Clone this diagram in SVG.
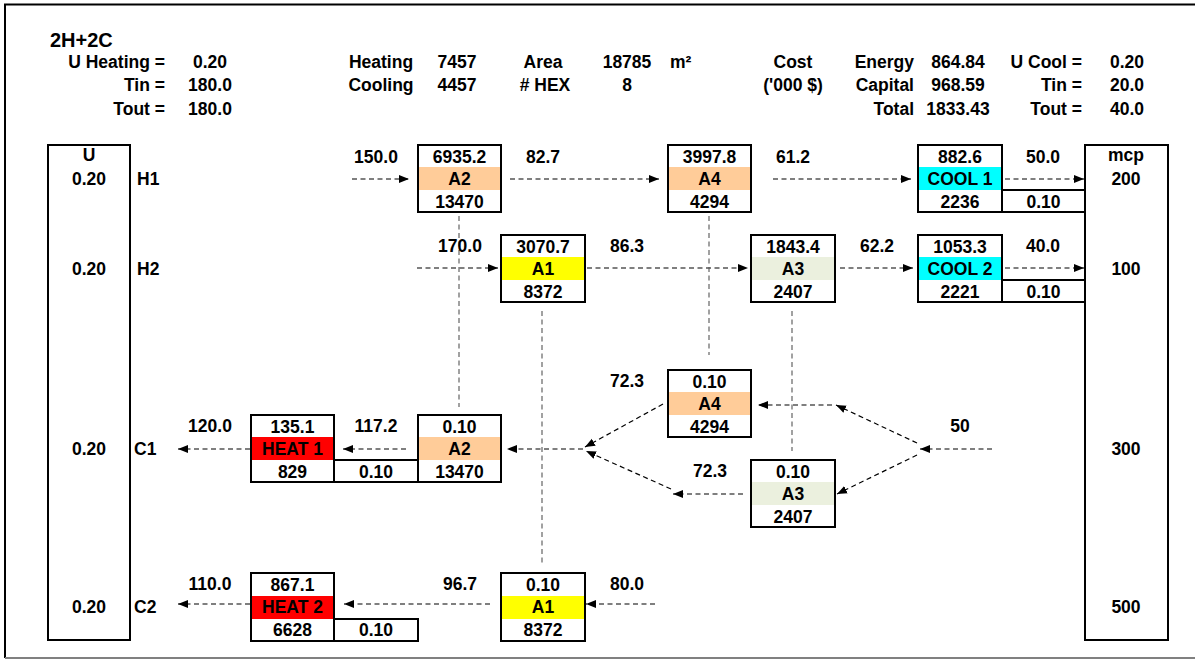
<svg xmlns="http://www.w3.org/2000/svg" width="1195" height="659" viewBox="0 0 1195 659">
<style>
text{font-family:"Liberation Sans",Arial,sans-serif;font-weight:bold;font-size:17.5px;fill:#000}
.m{text-anchor:middle}
.e{text-anchor:end}
.b{fill:#fff;stroke:none}
.o{fill:none;stroke:#000;stroke-width:2}
.c{fill:none;stroke:#000;stroke-width:1.2;stroke-dasharray:5,3.5}
.v{fill:none;stroke:#555;stroke-width:1.1;stroke-dasharray:5,3.5}
.peach{fill:#FFCC99}.yel{fill:#FFFF00}.grn{fill:#EBF0DE}.cyan{fill:#00FFFF}.red{fill:#FF0000}
</style>
<defs>
<marker id="ah" markerUnits="userSpaceOnUse" markerWidth="11" markerHeight="9" refX="10" refY="4.5" orient="auto">
<path d="M0,0.5 L10,4.5 L0,8.5 z" fill="#000"/>
</marker>
</defs>
<rect x="0" y="0" width="1195" height="659" fill="#fff"/>
<g id="frame">
<line x1="4" y1="4.5" x2="1195" y2="4.5" stroke="#000" stroke-width="2"/>
<line x1="5" y1="4" x2="5" y2="658" stroke="#000" stroke-width="2"/>
<line x1="5" y1="658" x2="1195" y2="658" stroke="#808080" stroke-width="2"/>
</g>
<g id="header">
<text x="50" y="47" style="font-size:20px">2H+2C</text>
<text x="165" y="68" class="e">U Heating =</text>
<text x="165" y="91" class="e">Tin =</text>
<text x="165" y="115" class="e">Tout =</text>
<text x="210" y="68" class="m">0.20</text>
<text x="210" y="91" class="m">180.0</text>
<text x="210" y="115" class="m">180.0</text>
<text x="381" y="68" class="m">Heating</text>
<text x="381" y="91" class="m">Cooling</text>
<text x="457" y="68" class="m">7457</text>
<text x="457" y="91" class="m">4457</text>
<text x="543" y="68" class="m">Area</text>
<text x="545" y="91" class="m"># HEX</text>
<text x="627" y="68" class="m">18785</text>
<text x="627" y="91" class="m">8</text>
<text x="670" y="68">m²</text>
<text x="793" y="68" class="m">Cost</text>
<text x="793" y="91" class="m">('000 $)</text>
<text x="914" y="68" class="e">Energy</text>
<text x="914" y="91" class="e">Capital</text>
<text x="914" y="115" class="e">Total</text>
<text x="958" y="68" class="m">864.84</text>
<text x="958" y="91" class="m">968.59</text>
<text x="958" y="115" class="m">1833.43</text>
<text x="1082" y="68" class="e">U Cool =</text>
<text x="1082" y="91" class="e">Tin =</text>
<text x="1082" y="115" class="e">Tout =</text>
<text x="1127" y="68" class="m">0.20</text>
<text x="1127" y="91" class="m">20.0</text>
<text x="1127" y="115" class="m">40.0</text>
</g>
<g id="connectors">
<line class="c" x1="352" y1="179" x2="409" y2="179" marker-end="url(#ah)"/>
<line class="c" x1="510" y1="179" x2="659" y2="179" marker-end="url(#ah)"/>
<line class="c" x1="773" y1="179" x2="911" y2="179" marker-end="url(#ah)"/>
<line class="c" x1="1005" y1="179" x2="1084" y2="179" marker-end="url(#ah)"/>
<line class="c" x1="417" y1="268" x2="498" y2="268" marker-end="url(#ah)"/>
<line class="c" x1="587" y1="268" x2="748" y2="268" marker-end="url(#ah)"/>
<line class="c" x1="840" y1="268" x2="913" y2="268" marker-end="url(#ah)"/>
<line class="c" x1="1005" y1="268" x2="1084" y2="268" marker-end="url(#ah)"/>
<line class="c" x1="992" y1="449" x2="920" y2="449" marker-end="url(#ah)"/>
<line class="c" x1="917" y1="443" x2="836" y2="405" marker-end="url(#ah)"/>
<line class="c" x1="832" y1="405" x2="758" y2="405" marker-end="url(#ah)"/>
<line class="c" x1="917" y1="455" x2="837" y2="494" marker-end="url(#ah)"/>
<line class="c" x1="663" y1="404" x2="585" y2="447" marker-end="url(#ah)"/>
<line class="c" x1="743" y1="494" x2="673" y2="494" marker-end="url(#ah)"/>
<line class="c" x1="671" y1="489" x2="586" y2="451" marker-end="url(#ah)"/>
<line class="c" x1="583" y1="449" x2="507" y2="449" marker-end="url(#ah)"/>
<line class="c" x1="406" y1="449" x2="343" y2="449" marker-end="url(#ah)"/>
<line class="c" x1="250" y1="449" x2="178" y2="449" marker-end="url(#ah)"/>
<line class="c" x1="655" y1="604" x2="586" y2="604" marker-end="url(#ah)"/>
<line class="c" x1="490" y1="604" x2="344" y2="604" marker-end="url(#ah)"/>
<line class="c" x1="250" y1="604" x2="178" y2="604" marker-end="url(#ah)"/>
<line class="v" x1="459" y1="216" x2="459" y2="407"/>
<line class="v" x1="542" y1="311" x2="542" y2="563"/>
<line class="v" x1="709" y1="216" x2="709" y2="355"/>
<line class="v" x1="792" y1="311" x2="792" y2="451"/>
</g>
<g id="labels">
<text x="376" y="163" class="m">150.0</text>
<text x="543" y="163" class="m">82.7</text>
<text x="793" y="163" class="m">61.2</text>
<text x="1043" y="163" class="m">50.0</text>
<text x="460" y="252" class="m">170.0</text>
<text x="627" y="252" class="m">86.3</text>
<text x="877" y="252" class="m">62.2</text>
<text x="1043" y="252" class="m">40.0</text>
<text x="210" y="432" class="m">120.0</text>
<text x="376" y="432" class="m">117.2</text>
<text x="627" y="387" class="m">72.3</text>
<text x="710" y="477" class="m">72.3</text>
<text x="960" y="432" class="m">50</text>
<text x="210" y="590" class="m">110.0</text>
<text x="460" y="590" class="m">96.7</text>
<text x="627" y="590" class="m">80.0</text>
</g>
<g id="U-column">
<rect class="o" x="48" y="145" width="82" height="495"/>
<text x="89" y="161" class="m">U</text>
<text x="89" y="185" class="m">0.20</text>
<text x="89" y="275" class="m">0.20</text>
<text x="89" y="455" class="m">0.20</text>
<text x="89" y="613" class="m">0.20</text>
</g>
<g id="stream-labels">
<text x="137" y="185">H1</text>
<text x="137" y="275">H2</text>
<text x="134" y="455">C1</text>
<text x="134" y="613">C2</text>
</g>
<g id="mcp-column">
<rect class="o" x="1085" y="145" width="83" height="495"/>
<text x="1126" y="161" class="m">mcp</text>
<text x="1126" y="185" class="m">200</text>
<text x="1126" y="275" class="m">100</text>
<text x="1126" y="455" class="m">300</text>
<text x="1126" y="613" class="m">500</text>
</g>
<g id="H1-A2">
<rect class="b" x="418" y="145" width="83" height="67"/>
<rect class="peach" x="418" y="167" width="83" height="23"/>
<rect class="o" x="418" y="145" width="83" height="67"/>
<text x="459.5" y="163" class="m">6935.2</text>
<text x="459.5" y="185" class="m">A2</text>
<text x="459.5" y="208" class="m">13470</text>
</g>
<g id="H1-A4">
<rect class="b" x="668" y="145" width="83" height="67"/>
<rect class="peach" x="668" y="167" width="83" height="23"/>
<rect class="o" x="668" y="145" width="83" height="67"/>
<text x="709.5" y="163" class="m">3997.8</text>
<text x="709.5" y="185" class="m">A4</text>
<text x="709.5" y="208" class="m">4294</text>
</g>
<g id="COOL1">
<rect class="b" x="918" y="145" width="84" height="67"/>
<rect class="cyan" x="918" y="167" width="84" height="23"/>
<rect class="o" x="918" y="145" width="84" height="67"/>
<rect class="o" x="1002" y="190" width="83" height="22"/>
<text x="960" y="163" class="m">882.6</text>
<text x="960" y="185" class="m">COOL 1</text>
<text x="960" y="208" class="m">2236</text>
<text x="1043.5" y="208" class="m">0.10</text>
</g>
<g id="H2-A1">
<rect class="b" x="501" y="235" width="84" height="67"/>
<rect class="yel" x="501" y="257" width="84" height="23"/>
<rect class="o" x="501" y="235" width="84" height="67"/>
<text x="543" y="253" class="m">3070.7</text>
<text x="543" y="275" class="m">A1</text>
<text x="543" y="298" class="m">8372</text>
</g>
<g id="H2-A3">
<rect class="b" x="751" y="235" width="84" height="67"/>
<rect class="grn" x="751" y="257" width="84" height="23"/>
<rect class="o" x="751" y="235" width="84" height="67"/>
<text x="793" y="253" class="m">1843.4</text>
<text x="793" y="275" class="m">A3</text>
<text x="793" y="298" class="m">2407</text>
</g>
<g id="COOL2">
<rect class="b" x="918" y="235" width="84" height="67"/>
<rect class="cyan" x="918" y="257" width="84" height="23"/>
<rect class="o" x="918" y="235" width="84" height="67"/>
<rect class="o" x="1002" y="280" width="83" height="22"/>
<text x="960" y="253" class="m">1053.3</text>
<text x="960" y="275" class="m">COOL 2</text>
<text x="960" y="298" class="m">2221</text>
<text x="1043.5" y="298" class="m">0.10</text>
</g>
<g id="C1-A4">
<rect class="b" x="668" y="370" width="83" height="67"/>
<rect class="peach" x="668" y="392" width="83" height="23"/>
<rect class="o" x="668" y="370" width="83" height="67"/>
<text x="709.5" y="388" class="m">0.10</text>
<text x="709.5" y="410" class="m">A4</text>
<text x="709.5" y="433" class="m">4294</text>
</g>
<g id="C1-A3">
<rect class="b" x="751" y="460" width="84" height="67"/>
<rect class="grn" x="751" y="482" width="84" height="23"/>
<rect class="o" x="751" y="460" width="84" height="67"/>
<text x="793" y="478" class="m">0.10</text>
<text x="793" y="500" class="m">A3</text>
<text x="793" y="523" class="m">2407</text>
</g>
<g id="C1-A2">
<rect class="b" x="418" y="415" width="83" height="67"/>
<rect class="peach" x="418" y="437" width="83" height="23"/>
<rect class="o" x="418" y="415" width="83" height="67"/>
<text x="459.5" y="433" class="m">0.10</text>
<text x="459.5" y="455" class="m">A2</text>
<text x="459.5" y="478" class="m">13470</text>
</g>
<g id="HEAT1">
<rect class="b" x="251" y="415" width="83" height="67"/>
<rect class="red" x="251" y="437" width="83" height="23"/>
<rect class="o" x="251" y="415" width="83" height="67"/>
<rect class="o" x="334" y="460" width="84" height="22"/>
<text x="292.5" y="433" class="m">135.1</text>
<text x="292.5" y="455" class="m">HEAT 1</text>
<text x="292.5" y="478" class="m">829</text>
<text x="376" y="478" class="m">0.10</text>
</g>
<g id="HEAT2">
<rect class="b" x="251" y="573" width="83" height="68"/>
<rect class="red" x="251" y="596" width="83" height="23"/>
<rect class="o" x="251" y="573" width="83" height="68"/>
<rect class="o" x="334" y="619" width="84" height="22"/>
<text x="292.5" y="591" class="m">867.1</text>
<text x="292.5" y="613" class="m">HEAT 2</text>
<text x="292.5" y="636" class="m">6628</text>
<text x="376" y="636" class="m">0.10</text>
</g>
<g id="C2-A1">
<rect class="b" x="501" y="573" width="84" height="68"/>
<rect class="yel" x="501" y="596" width="84" height="23"/>
<rect class="o" x="501" y="573" width="84" height="68"/>
<text x="543" y="591" class="m">0.10</text>
<text x="543" y="613" class="m">A1</text>
<text x="543" y="636" class="m">8372</text>
</g>
</svg>
